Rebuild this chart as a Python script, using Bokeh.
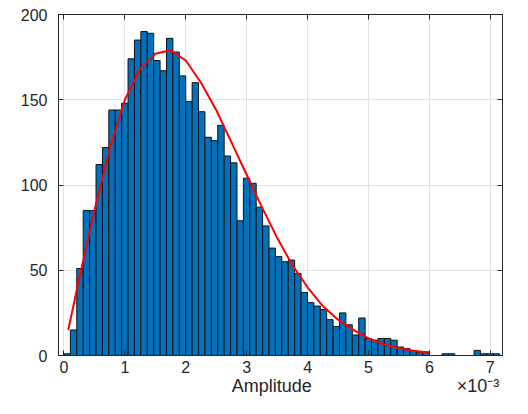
from bokeh.plotting import figure
from bokeh.models import ColumnDataSource, Range1d, LinearAxis, FixedTicker
from bokeh.embed import file_html
from bokeh.resources import INLINE

# ---- data ----
counts = [1, 15, 51, 85, 85, 112, 122, 144, 144, 148,
          174, 185, 190, 189, 173, 167, 186, 178, 164, 149,
          160, 143, 128, 126, 135, 117, 113, 79, 104, 101,
          87, 76, 63, 58, 55, 56, 48, 37, 31, 29,
          27, 21, 17, 25, 18, 12, 22, 10, 9, 10,
          10, 9, 5, 4, 3, 2, 2, 0, 0, 1,
          1, 0, 0, 0, 3, 1, 1, 1]
bin_start = 0.0          # x 10^-3
bin_width = 0.1052       # x 10^-3

curve_x = [0.07, 0.25, 0.5, 0.75, 1.0, 1.25, 1.5, 1.75, 2.0, 2.25, 2.5, 2.75,
           3.0, 3.25, 3.5, 3.75, 4.0, 4.25, 4.5, 4.75, 5.0, 5.25, 5.5, 5.75, 6.0]
curve_y = [15, 45, 85, 121, 150, 168, 177, 179, 173, 160, 144, 125,
           106, 87, 69, 53, 40, 29, 21, 15, 10, 6.6, 4.3, 2.7, 1.7]

x_ticks = [0, 1, 2, 3, 4, 5, 6, 7]
y_ticks = [0, 50, 100, 150, 200]
x_label = "Amplitude"
x_multiplier = "\u00d710\u207b\u00b3"   # x10^-3

# ---- build ----
lefts = [bin_start + i * bin_width for i in range(len(counts))]
rights = [l + bin_width for l in lefts]
src = ColumnDataSource(dict(left=lefts, right=rights, top=counts,
                            bottom=[0] * len(counts)))

FONT = "Liberation Sans"
TXT = "#262626"
NB = "\u00a0"

p = figure(width=512, height=398, output_backend="svg", toolbar_location=None,
           x_range=Range1d(-0.09, 7.2), y_range=Range1d(0, 200),
           min_border_left=58, min_border_right=10, min_border_top=14,
           min_border_bottom=43, background_fill_color="white",
           border_fill_color="white")

p.quad(left="left", right="right", top="top", bottom="bottom", source=src,
       fill_color="#0072BD", line_color="#111111", line_width=1)
p.line(curve_x, curve_y, line_color="#ff0000", line_width=2)

p.outline_line_color = TXT
p.outline_line_width = 1

for ax, ticks in ((p.xaxis[0], x_ticks), (p.yaxis[0], y_ticks)):
    ax.ticker = FixedTicker(ticks=ticks)
    ax.minor_tick_line_color = None
    ax.major_tick_in = 5
    ax.major_tick_out = 0
    ax.major_tick_line_color = TXT
    ax.axis_line_color = TXT
    ax.major_label_text_font = FONT
    ax.major_label_text_font_size = "16px"
    ax.major_label_text_color = TXT

p.yaxis[0].major_label_standoff = 11
p.xaxis[0].major_label_standoff = 5
# axis label: "Amplitude" centred under the axis, the x10^-3 multiplier at the right end
p.xaxis[0].axis_label = NB * 34 + x_label + NB * 29 + x_multiplier
p.xaxis[0].axis_label_text_font = FONT
p.xaxis[0].axis_label_text_font_size = "18px"
p.xaxis[0].axis_label_text_font_style = "normal"
p.xaxis[0].axis_label_text_color = TXT
p.xaxis[0].axis_label_standoff = 0

# mirrored ticks on top and right (no labels)
for loc, ticks in (("above", x_ticks), ("right", y_ticks)):
    ax = LinearAxis(ticker=FixedTicker(ticks=ticks))
    ax.minor_tick_line_color = None
    ax.major_tick_in = 5
    ax.major_tick_out = 0
    ax.major_tick_line_color = TXT
    ax.axis_line_color = TXT
    ax.major_label_text_font_size = "1px"
    ax.major_label_text_color = None
    ax.major_label_standoff = 0
    p.add_layout(ax, loc)

p.xgrid.ticker = FixedTicker(ticks=x_ticks)
p.ygrid.ticker = FixedTicker(ticks=y_ticks)
p.grid.grid_line_color = "#e2e2e2"
p.grid.grid_line_width = 1

open("out.html", "w").write(file_html(p, INLINE))
